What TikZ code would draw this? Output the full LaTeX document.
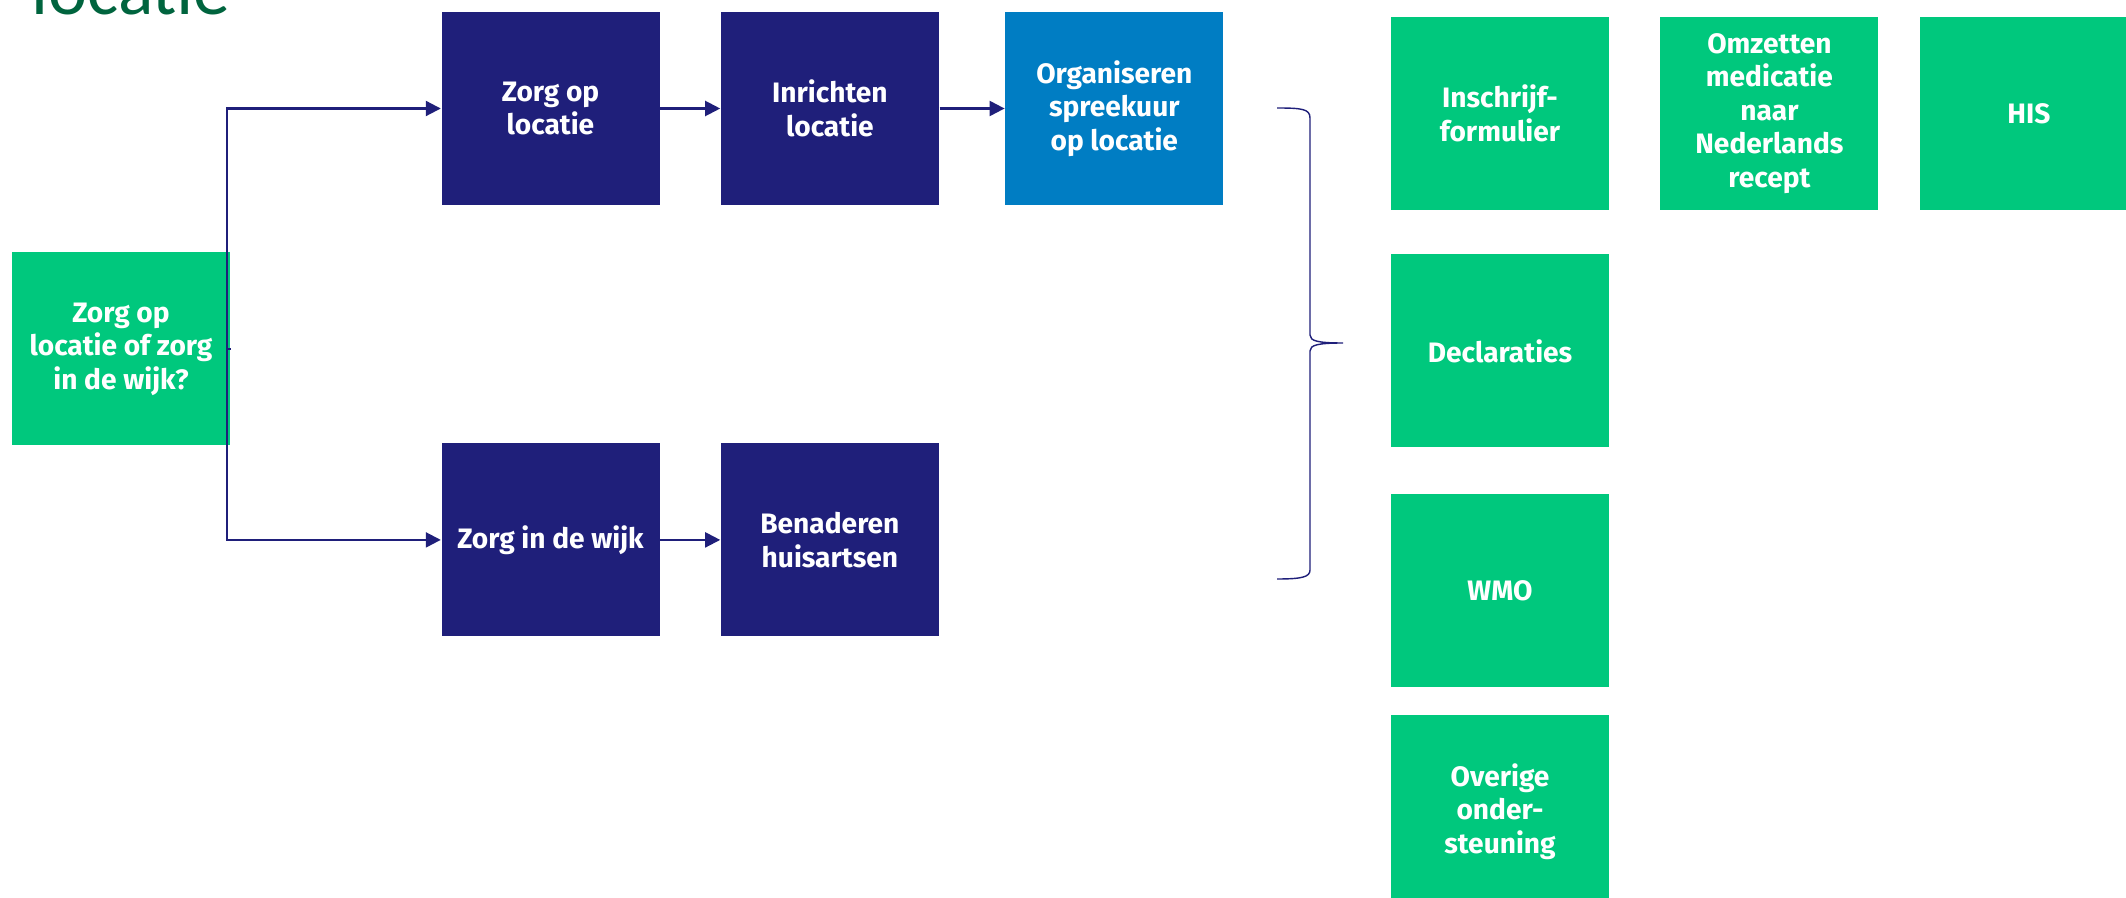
\documentclass[tikz,border=0pt]{standalone}
\usepackage{fontspec}
\setsansfont{Fira Sans}
\newfontfamily\titlefont{Carlito}
\usepackage{tikz}
\usetikzlibrary{calc,arrows.meta,positioning}

\definecolor{NavyBox}{RGB}{31,31,122}
\definecolor{GreenBox}{RGB}{0,200,125}
\definecolor{BlueBox}{RGB}{0,125,195}
\definecolor{TitleGreen}{RGB}{0,100,62}

\begin{document}
\begin{tikzpicture}

  % Parameters
  \def\wcell{2.18cm}
  \def\hcell{1.93cm}

  % Styles
  \tikzstyle{cell}=[text=white,align=center,minimum width=\wcell,minimum height=\hcell,inner sep=0pt,font=\sffamily\bfseries\fontsize{8pt}{9.5pt}\selectfont]
  \tikzstyle{navycell}=[cell,fill=NavyBox]
  \tikzstyle{greencell}=[cell,fill=GreenBox]
  \tikzstyle{bluecell}=[cell,fill=BlueBox]
  \tikzstyle{conn}=[draw=NavyBox,line width=0.6pt,-{Triangle[length=1.5mm,width=1.5mm]}]
  \tikzstyle{curly}=[draw=NavyBox,line width=0.4pt]

  % Page
  \useasboundingbox (0,0) rectangle (21.26,-8.98);
  \clip (0,0) rectangle (21.26,-8.98);
  \fill[white] (0,0) rectangle (21.26,-8.98);

  % Title (cut off at the top)
  \node[anchor=base west,inner sep=0pt,text=TitleGreen,font=\titlefont\fontsize{21pt}{25pt}\selectfont] (title) at (0.31,-0.15) {locatie};

  % Flow on the left
  \node[greencell] (start) at (1.21,-3.49) {Zorg op\\locatie of zorg\\in de wijk?};
  \node[navycell] (zol) at (5.505,-1.085) {Zorg op\\locatie};
  \node[navycell,right=0.6cm of zol] (inr) {Inrichten\\locatie};
  \node[bluecell,right=0.65cm of inr] (org) {Organiseren\\spreekuur\\op locatie};
  \node[navycell,below=2.37cm of zol] (ziw) {Zorg in de wijk};
  \node[navycell,right=0.6cm of ziw] (ben) {Benaderen\\huisartsen};

  % Blocks on the right
  \node[greencell] (ins) at (15.0,-1.135) {Inschrijf-\\formulier};
  \node[greencell,right=0.5cm of ins] (omz) {Omzetten\\medicatie\\naar\\Nederlands\\recept};
  \node[greencell,right=0.4cm of omz] (his) {HIS};
  \node[greencell,below=0.43cm of ins] (dec) {Declaraties};
  \node[greencell,below=0.45cm of dec] (wmo) {WMO};
  \node[greencell,below=0.27cm of wmo] (ovr) {Overige\\onder-\\steuning};

  % Connectors
  \draw[conn] (start.east) -- ++(-0.04,0) |- (zol.west);
  \draw[conn] (start.east) -- ++(-0.04,0) |- (ziw.west);
  \draw[conn] (zol) -- (inr);
  \draw[conn] (inr) -- (org);
  \draw[conn] (ziw) -- (ben);

  % Brace
  \coordinate (brtop) at (12.77,-1.08);
  \coordinate (brtip) at (13.43,-3.43);
  \coordinate (brbot) at (12.77,-5.79);
  \draw[curly] (brtop) .. controls (13.02,-1.08) and (13.10,-1.09) .. (13.10,-1.18)
    -- (13.10,-3.35) .. controls (13.10,-3.41) and (13.18,-3.43) .. (brtip)
    .. controls (13.18,-3.43) and (13.10,-3.45) .. (13.10,-3.51)
    -- (13.10,-5.70) .. controls (13.10,-5.77) and (13.02,-5.79) .. (brbot);

\end{tikzpicture}
\end{document}
